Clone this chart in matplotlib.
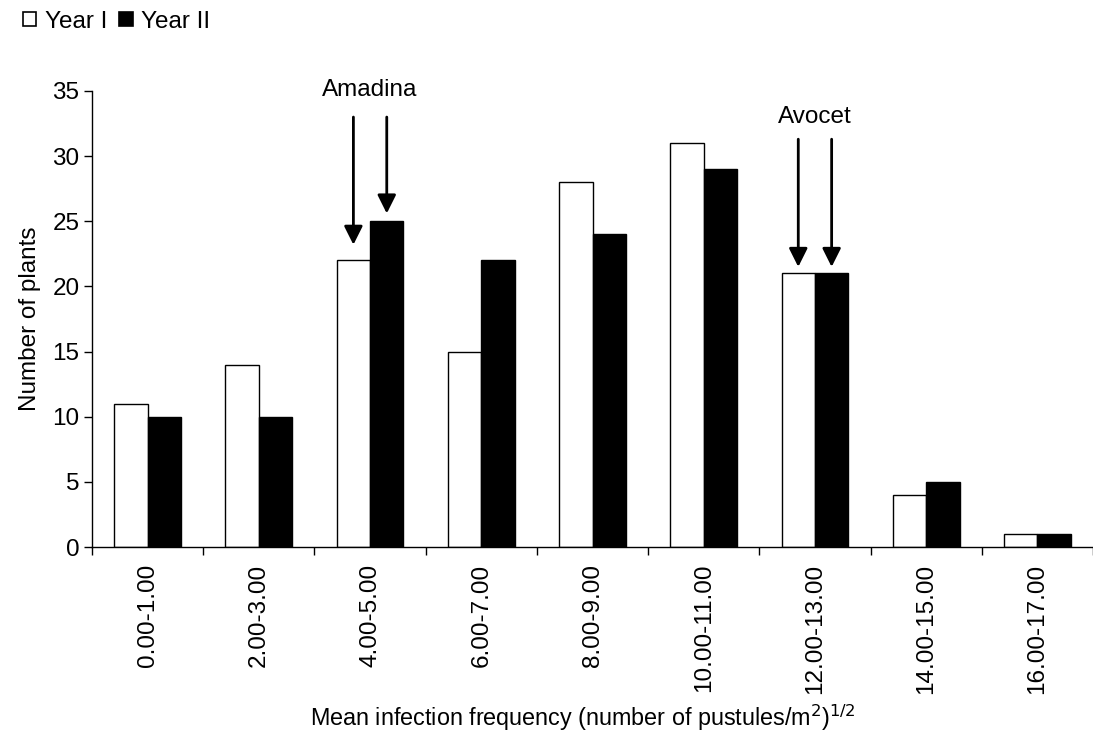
import matplotlib
matplotlib.use("Agg")
import matplotlib.pyplot as plt
from matplotlib.patches import Patch
import numpy as np

plt.rcParams['font.family'] = ['Liberation Sans', 'DejaVu Sans']
FS = 17.5
plt.rcParams['font.size'] = FS

categories = ["0.00-1.00", "2.00-3.00", "4.00-5.00", "6.00-7.00", "8.00-9.00",
              "10.00-11.00", "12.00-13.00", "14.00-15.00", "16.00-17.00"]
year1 = [11, 14, 22, 15, 28, 31, 21, 4, 1]
year2 = [10, 10, 25, 22, 24, 29, 21, 5, 1]
series_labels = ["Year I", "Year II"]

# Cultivar markers: (name, category index, arrow start y, tip clearance above bars, label y)
cultivars = [("Amadina", 2, 33.0, (1.2, 0.6), 35.1),
             ("Avocet", 6, 31.3, (0.5, 0.5), 33.0)]

fig = plt.figure(figsize=(10.93, 7.41), dpi=100)
ax = fig.add_axes([0.0842, 0.2618, 0.9158, 0.6154])

x = np.arange(len(categories))
w = 0.3
ax.bar(x - w / 2, year1, width=w, color='white', edgecolor='black', linewidth=1)
ax.bar(x + w / 2, year2, width=w, color='black', edgecolor='black', linewidth=1)

ax.set_xlim(-0.5, len(categories) - 0.5)
ax.set_ylim(0, 35)
ax.set_yticks(range(0, 36, 5))

# Tick marks sit on category boundaries; labels sit at category centres
ax.set_xticks(np.arange(-0.5, len(categories), 1.0))
ax.set_xticklabels([])
ax.set_xticks(x, minor=True)
ax.set_xticklabels(categories, minor=True, rotation=90)
ax.tick_params(axis='x', which='minor', length=0, pad=12, labelsize=FS)
ax.tick_params(axis='x', which='major', length=6, width=1, direction='out')
ax.tick_params(axis='y', length=6, width=1, direction='out', labelsize=FS, pad=3)

for s in ['top', 'right']:
    ax.spines[s].set_visible(False)
for s in ['left', 'bottom']:
    ax.spines[s].set_linewidth(1)

ax.set_ylabel("Number of plants", fontsize=FS, labelpad=8)
xl = ax.set_xlabel("Mean infection frequency (number of pustules/m$^2$)$^{1/2}$",
                   fontsize=16.8)
xl.set_verticalalignment('center')
ax.xaxis.set_label_coords(0.4905, -0.374)

bar_vals = [year1, year2]
for name, idx, top, gaps, label_y in cultivars:
    for k, off in enumerate((-w / 2, w / 2)):
        tip = bar_vals[k][idx] + gaps[k]
        ax.annotate('', xy=(idx + off, tip), xytext=(idx + off, top),
                    arrowprops=dict(arrowstyle='-|>,head_length=0.8,head_width=0.4',
                                    lw=2, color='black', mutation_scale=14,
                                    shrinkA=0, shrinkB=0),
                    annotation_clip=False)
    ax.text(idx, label_y, name, ha='center', va='center', fontsize=FS, clip_on=False)

handles = [Patch(facecolor='white', edgecolor='black', linewidth=1.2),
           Patch(facecolor='black', edgecolor='black', linewidth=1.2)]
fig.legend(handles, series_labels, loc='upper left', bbox_to_anchor=(0.001, 1.015),
           ncol=2, frameon=False, handlelength=0.55, handleheight=0.55,
           handletextpad=0.35, columnspacing=0.5, fontsize=FS)

fig.savefig("out.png", dpi=100)
